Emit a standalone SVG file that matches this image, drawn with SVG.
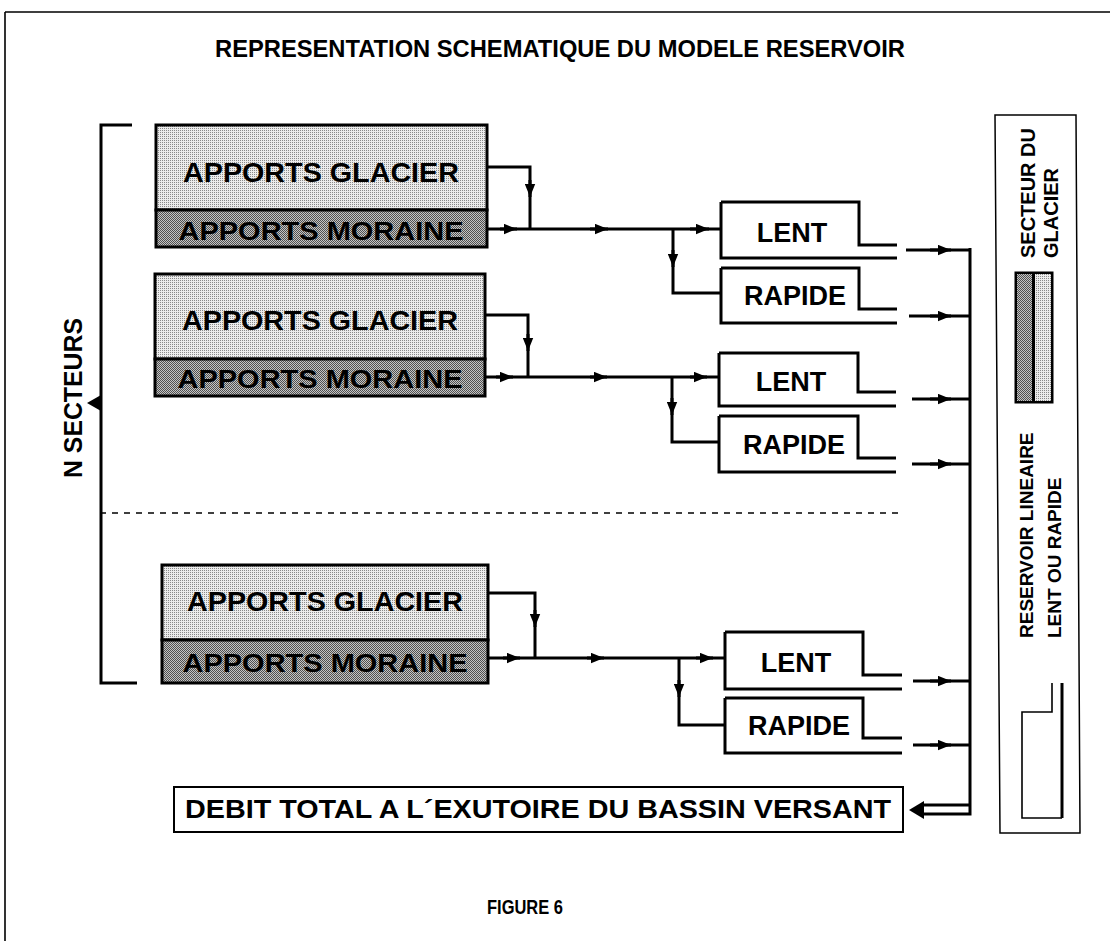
<svg xmlns="http://www.w3.org/2000/svg" width="1110" height="941" viewBox="0 0 1110 941">
<style>
.t{font-family:"Liberation Sans",Arial,sans-serif;font-weight:bold;fill:#000}
.ln{fill:none;stroke:#000;stroke-width:3}
.thin{fill:none;stroke:#000;stroke-width:1.6}
.ar{fill:none;stroke:#000;stroke-width:3;marker-end:url(#ah)}
.gl{fill:url(#pg);stroke:#000;stroke-width:3}
.mo{fill:url(#pm);stroke:#000;stroke-width:3}
</style>
<defs>
<marker id="ah" markerUnits="userSpaceOnUse" viewBox="0 0 10 8" refX="10" refY="4" markerWidth="13" markerHeight="11" orient="auto">
<path d="M0 0 L10 4 L0 8 z" fill="#000"/>
</marker>
<pattern id="pg" width="2" height="2" patternUnits="userSpaceOnUse">
<rect width="2" height="2" fill="#ececec"/><rect width="1" height="1" fill="#8a8a8a"/>
</pattern>
<pattern id="pm" width="2" height="2" patternUnits="userSpaceOnUse">
<rect width="2" height="2" fill="#c4c4c4"/><rect width="1" height="1" fill="#505050"/><rect x="1" y="1" width="1" height="1" fill="#505050"/>
</pattern>
</defs>
<rect width="1110" height="941" fill="#fff"/>
<g id="frame"><path class="thin" d="M5 12 H1110 M5 12 V941"/></g>
<g id="title"><text class="t" x="560" y="57" font-size="23" text-anchor="middle" textLength="690" lengthAdjust="spacingAndGlyphs">REPRESENTATION SCHEMATIQUE DU MODELE RESERVOIR</text></g>

<g id="bracket">
<path class="ln" d="M132 125 H101 V683 H137"/>
<path d="M101 395 L87 403 L101 411 z" fill="#000"/>
<text class="t" font-size="25" text-anchor="middle" textLength="160" lengthAdjust="spacingAndGlyphs" transform="translate(82,398) rotate(-90)">N SECTEURS</text>
</g>

<g id="sector1">
<rect class="gl" x="156" y="125" width="331" height="85"/>
<rect class="mo" x="156" y="210" width="331" height="37"/>
<text class="t" x="321" y="182" font-size="28" text-anchor="middle" textLength="276" lengthAdjust="spacingAndGlyphs">APPORTS GLACIER</text>
<text class="t" x="321" y="240" font-size="26" text-anchor="middle" textLength="285" lengthAdjust="spacingAndGlyphs">APPORTS MORAINE</text>
</g>
<g id="lent1"><path class="ln" d="M721 202 H859 V245 H897 M721 202 V258 H897"/><text class="t" x="792" y="242" font-size="27" text-anchor="middle">LENT</text></g>
<g id="rapide1"><path class="ln" d="M721 268 H859 V309 H897 M721 268 V323 H897"/><text class="t" x="795" y="305" font-size="27" text-anchor="middle">RAPIDE</text></g>

<g id="sector2">
<rect class="gl" x="155" y="274" width="330" height="85"/>
<rect class="mo" x="155" y="359" width="330" height="37"/>
<text class="t" x="320" y="330" font-size="28" text-anchor="middle" textLength="276" lengthAdjust="spacingAndGlyphs">APPORTS GLACIER</text>
<text class="t" x="320" y="388" font-size="26" text-anchor="middle" textLength="285" lengthAdjust="spacingAndGlyphs">APPORTS MORAINE</text>
</g>
<g id="lent2"><path class="ln" d="M719 353 H858 V392 H896 M719 353 V406 H896"/><text class="t" x="791" y="391" font-size="27" text-anchor="middle">LENT</text></g>
<g id="rapide2"><path class="ln" d="M719 416 H858 V458 H896 M719 416 V472 H896"/><text class="t" x="794" y="454" font-size="27" text-anchor="middle">RAPIDE</text></g>

<g id="separator"><path d="M100 513 H898" stroke="#000" stroke-width="1.5" stroke-dasharray="6 6" fill="none"/></g>

<g id="sector3">
<rect class="gl" x="162" y="565" width="326" height="75"/>
<rect class="mo" x="162" y="640" width="326" height="43"/>
<text class="t" x="325" y="611" font-size="28" text-anchor="middle" textLength="276" lengthAdjust="spacingAndGlyphs">APPORTS GLACIER</text>
<text class="t" x="325" y="672" font-size="26" text-anchor="middle" textLength="285" lengthAdjust="spacingAndGlyphs">APPORTS MORAINE</text>
</g>
<g id="lent3"><path class="ln" d="M725 632 H863 V675 H902 M725 632 V689 H902"/><text class="t" x="796" y="672" font-size="27" text-anchor="middle">LENT</text></g>
<g id="rapide3"><path class="ln" d="M725 698 H863 V738 H902 M725 698 V753 H902"/><text class="t" x="799" y="735" font-size="27" text-anchor="middle">RAPIDE</text></g>

<g id="debit">
<rect x="174" y="787" width="729" height="45" fill="#fff" stroke="#000" stroke-width="2"/>
<text class="t" x="538" y="818" font-size="25" text-anchor="middle" textLength="706" lengthAdjust="spacingAndGlyphs">DEBIT TOTAL A L´EXUTOIRE DU BASSIN VERSANT</text>
</g>

<g id="connectors">
<path class="ln" d="M487 167 H530 V229 M487 229 H721 M673 229 V293 H721"/>
<path class="ar" d="M530 180 V197"/>
<path class="ar" d="M500 229 H517"/>
<path class="ar" d="M590 229 H608"/>
<path class="ar" d="M690 229 H709"/>
<path class="ar" d="M673 250 V267"/>
<path class="ln" d="M906 250 H970 M909 316 H970"/>
<path class="ar" d="M930 250 H951"/>
<path class="ar" d="M930 316 H951"/>
<path class="ln" d="M485 315 H528 V377 M485 377 H719 M672 377 V442 H719"/>
<path class="ar" d="M528 334 V351"/>
<path class="ar" d="M496 377 H513"/>
<path class="ar" d="M590 377 H607"/>
<path class="ar" d="M690 377 H707"/>
<path class="ar" d="M672 398 V415"/>
<path class="ln" d="M912 399 H970 M912 464 H970"/>
<path class="ar" d="M930 399 H951"/>
<path class="ar" d="M930 464 H951"/>
<path class="ln" d="M488 593 H535 V658 M488 658 H725 M679 658 V725 H725"/>
<path class="ar" d="M535 610 V627"/>
<path class="ar" d="M503 658 H520"/>
<path class="ar" d="M587 658 H604"/>
<path class="ar" d="M696 658 H713"/>
<path class="ar" d="M679 680 V697"/>
<path class="ln" d="M913 681 H970 M913 745 H970"/>
<path class="ar" d="M930 681 H951"/>
<path class="ar" d="M930 745 H951"/>
<path class="ln" d="M970 248 V814 H923 M970 805 H923"/>
<path d="M909 810 L924 801 L924 819 z" fill="#000"/>
</g>

<g id="legend">
<path d="M995 115 H1076 L1080 833 H1000 z" fill="none" stroke="#000" stroke-width="1.5"/>
<text class="t" font-size="20" transform="translate(1035,258) rotate(-90)">SECTEUR DU</text>
<text class="t" font-size="20" transform="translate(1058,258) rotate(-90)">GLACIER</text>
<rect x="1014.5" y="271.5" width="39" height="132" fill="#000"/>
<rect x="1017" y="274" width="15" height="127" fill="url(#pm)"/>
<rect x="1035" y="274" width="16" height="127" fill="url(#pg)"/>
<text class="t" font-size="19" transform="translate(1033,638) rotate(-90)">RESERVOIR LINEAIRE</text>
<text class="t" font-size="19" transform="translate(1061,638) rotate(-90)">LENT OU RAPIDE</text>
<path class="thin" d="M1052 683 V712 H1022 V818 H1062" stroke-width="2"/>
<path d="M1062 683 V818" stroke="#000" stroke-width="3"/>
</g>

<g id="caption"><text class="t" x="525" y="914" font-size="21" text-anchor="middle" textLength="76" lengthAdjust="spacingAndGlyphs">FIGURE 6</text></g>
</svg>
